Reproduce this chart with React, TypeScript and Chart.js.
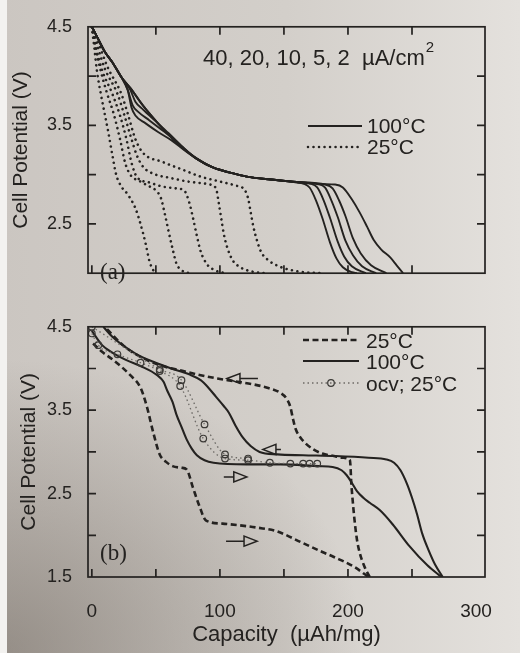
import React, { useEffect, useRef } from 'react';
import { Chart, registerables } from 'chart.js';
Chart.register(...registerables);

// ---------------- axes ----------------
const X_MIN = -3;
const X_MAX = 307;
const xBottomMarks = [0, 50, 100, 150, 200, 250];
const xTopMarks = [50, 100, 150, 200, 250];
const xLabelValues = [0, 100, 200, 300];
const yMarksA = [2.5, 3.0, 3.5, 4.0];
const yLabelsA = [2.5, 3.5, 4.5];
const yMarksB = [2.0, 2.5, 3.0, 3.5, 4.0];
const yLabelsB = [1.5, 2.5, 3.5, 4.5];

// ---------------- panel (a): 100 °C, 40/20/10/5/2 µA/cm² ----------------
const capA100_40 = [0, 4, 10, 16, 23, 28, 31, 34, 42, 52, 62, 72, 82, 95, 108, 121, 140, 160, 165, 170, 175, 180, 186, 191, 196, 203, 207];
const vA100_40 = [4.5, 4.4, 4.25, 4.14, 3.99, 3.86, 3.68, 3.6, 3.52, 3.43, 3.35, 3.25, 3.16, 3.07, 3.02, 2.98, 2.95, 2.92, 2.91, 2.87, 2.74, 2.56, 2.31, 2.15, 2.06, 2.01, 2.0];
const capA100_20 = [0, 4, 10, 16, 23, 28, 32, 36, 45, 55, 65, 75, 85, 95, 108, 121, 140, 160, 170, 176, 181, 186, 192, 197, 203, 214];
const vA100_20 = [4.5, 4.4, 4.25, 4.14, 3.99, 3.86, 3.7, 3.64, 3.55, 3.45, 3.35, 3.23, 3.14, 3.07, 3.02, 2.98, 2.95, 2.925, 2.91, 2.87, 2.74, 2.56, 2.32, 2.17, 2.07, 2.0];
const capA100_10 = [0, 4, 10, 16, 23, 30, 34, 40, 50, 60, 71, 82, 95, 108, 121, 140, 160, 176, 182, 187, 192, 198, 204, 211, 222];
const vA100_10 = [4.5, 4.4, 4.25, 4.14, 3.99, 3.86, 3.74, 3.66, 3.54, 3.42, 3.28, 3.16, 3.07, 3.02, 2.98, 2.95, 2.925, 2.905, 2.87, 2.74, 2.57, 2.33, 2.18, 2.07, 2.0];
const capA100_5 = [0, 4, 10, 16, 23, 30, 40, 51, 61, 71, 82, 95, 108, 121, 140, 160, 182, 188, 193, 198, 204, 210, 218, 230];
const vA100_5 = [4.5, 4.4, 4.25, 4.14, 3.99, 3.88, 3.7, 3.53, 3.39, 3.27, 3.16, 3.07, 3.02, 2.98, 2.95, 2.925, 2.9, 2.86, 2.74, 2.58, 2.35, 2.2, 2.08, 2.0];
const capA100_2 = [0, 4, 10, 16, 23, 30, 40, 51, 61, 71, 82, 95, 108, 121, 140, 160, 180, 190, 196, 203, 209, 215, 220, 226, 233, 238, 243];
const vA100_2 = [4.5, 4.4, 4.25, 4.14, 3.99, 3.88, 3.7, 3.53, 3.39, 3.27, 3.16, 3.07, 3.02, 2.98, 2.95, 2.925, 2.905, 2.9, 2.87, 2.75, 2.62, 2.47, 2.34, 2.24, 2.16, 2.08, 2.0];

// ---------------- panel (a): 25 °C ----------------
const capA25_40 = [0, 2, 4, 7, 10, 13, 16, 19, 23, 28, 34, 38, 42, 45, 48, 51];
const vA25_40 = [4.5, 4.28, 4.05, 3.82, 3.62, 3.42, 3.2, 3.0, 2.88, 2.8, 2.66, 2.5, 2.3, 2.12, 2.03, 2.0];
const capA25_20 = [0, 3, 7, 12, 17, 22, 26, 30, 38, 45, 50, 54, 57, 60, 63, 66, 70, 76];
const vA25_20 = [4.5, 4.28, 4.05, 3.82, 3.62, 3.36, 3.12, 3.0, 2.93, 2.88, 2.84, 2.76, 2.6, 2.42, 2.25, 2.1, 2.03, 2.0];
const capA25_10 = [0, 3, 8, 16, 22, 27, 31, 35, 45, 55, 66, 72, 76, 79, 82, 85, 90, 96, 104];
const vA25_10 = [4.5, 4.3, 4.06, 3.82, 3.6, 3.36, 3.12, 2.98, 2.92, 2.88, 2.86, 2.84, 2.72, 2.56, 2.38, 2.22, 2.09, 2.03, 2.0];
const capA25_5 = [0, 4, 10, 20, 25, 31, 35, 40, 50, 60, 75, 92, 97, 99, 101, 103, 106, 110, 116, 124, 135];
const vA25_5 = [4.5, 4.32, 4.08, 3.82, 3.62, 3.36, 3.2, 3.08, 3.0, 2.97, 2.93, 2.9, 2.86, 2.72, 2.56, 2.4, 2.25, 2.13, 2.06, 2.02, 2.0];
const capA25_2 = [0, 5, 12, 23, 28, 34, 40, 55, 69, 85, 100, 112, 119, 122, 124, 126, 129, 132, 138, 146, 160, 178];
const vA25_2 = [4.5, 4.34, 4.1, 3.82, 3.62, 3.36, 3.22, 3.13, 3.06, 2.98, 2.93, 2.89, 2.85, 2.76, 2.62, 2.48, 2.33, 2.22, 2.13, 2.07, 2.02, 2.0];

// ---------------- panel (b) ----------------
const capB25dis = [1, 8, 16, 30, 38, 43, 48, 53, 58, 63, 70, 74, 79, 84, 89, 102, 115, 130, 144, 163, 180, 189, 205, 216];
const vB25dis = [4.3, 4.2, 4.11, 3.92, 3.77, 3.54, 3.23, 2.97, 2.88, 2.83, 2.81, 2.79, 2.57, 2.35, 2.18, 2.14, 2.12, 2.09, 2.05, 1.92, 1.8, 1.74, 1.62, 1.5];
const capB25chg = [217, 213, 209, 207, 205, 203.5, 202.5, 202, 201.5, 196, 189, 180, 173, 167, 163, 159, 157, 155, 152, 147, 137, 126, 110, 98, 85, 74, 53, 38, 25, 10];
const vB25chg = [1.5, 1.62, 1.8, 1.95, 2.2, 2.45, 2.65, 2.82, 2.9, 2.93, 2.95, 2.98, 3.03, 3.1, 3.17, 3.28, 3.4, 3.54, 3.64, 3.71, 3.77, 3.81, 3.85, 3.88, 3.92, 3.96, 4.04, 4.14, 4.27, 4.5];
const capB100chg = [274, 268, 263, 258, 254, 250, 246, 241, 236, 230, 216, 190, 165, 145, 131, 124, 118, 112, 107, 103, 97, 91, 85, 76, 62, 48, 35, 24, 16, 9];
const vB100chg = [1.5, 1.65, 1.82, 2.02, 2.25, 2.45, 2.62, 2.78, 2.87, 2.91, 2.93, 2.95, 2.96, 2.97, 3.0, 3.07, 3.17, 3.32, 3.47, 3.55, 3.66, 3.77, 3.86, 3.93, 4.0, 4.08, 4.17, 4.28, 4.38, 4.5];
const capB100dis = [0, 8, 16, 27, 38, 51, 56, 59, 63, 66, 70, 74, 78, 82, 88, 95, 121, 147, 177, 188, 195, 199, 203, 207, 212, 217, 225, 235, 248, 262, 273];
const vB100dis = [4.45, 4.28, 4.19, 4.1, 4.03, 3.92, 3.84, 3.73, 3.6, 3.45, 3.3, 3.15, 3.04, 2.96, 2.9, 2.87, 2.85, 2.85, 2.83, 2.82, 2.78, 2.72, 2.63, 2.53, 2.45, 2.39, 2.3, 2.13, 1.87, 1.64, 1.5];
const capOcvDis = [0, 5, 20, 38, 53, 69, 87, 104, 122, 139, 155, 165, 170, 176];
const vOcvDis = [4.42, 4.28, 4.17, 4.07, 3.97, 3.79, 3.16, 2.92, 2.9, 2.87, 2.86, 2.86, 2.86, 2.86];
const capOcvChg = [0, 53, 70, 88, 104, 122];
const vOcvChg = [4.5, 3.99, 3.86, 3.33, 2.97, 2.92];

// direction arrows in panel (b): capacity, potential, direction
const arrowCap = [105.5, 133.6, 121, 129];
const arrowV = [3.88, 3.03, 2.7, 1.93];
const arrowDir = [-1, -1, 1, 1];
const arrowTail = [18, 5, 10, 18];

// ---------------- style ----------------
const INK = '#242220';
const FONT = '"Liberation Sans", Arial, Helvetica, sans-serif';
const SERIF = '"Liberation Serif", "Times New Roman", serif';
const DOT = [0.01, 5.5];
const DASH = [6, 3.5];
const OCV_DASH = [1.5, 3];

const pts = (xs: number[], ys: number[]) => xs.map((x, i) => ({ x, y: ys[i] }));

const solid = (data: any, w = 2.1) => ({
  data, showLine: true, borderColor: INK, borderWidth: w, pointRadius: 0,
  cubicInterpolationMode: 'monotone', fill: false,
});
const dotted = (data: any) => ({
  data, showLine: true, borderColor: INK, borderWidth: 2.6, borderDash: DOT,
  borderCapStyle: 'round', pointRadius: 0, cubicInterpolationMode: 'monotone', fill: false,
});
const dashed = (data: any) => ({
  data, showLine: true, borderColor: INK, borderWidth: 2.6, borderDash: DASH,
  pointRadius: 0, cubicInterpolationMode: 'monotone', fill: false,
});
const ocv = (data: any) => ({
  data, showLine: true, borderColor: '#6d6a66', borderWidth: 1.3, borderDash: OCV_DASH,
  pointRadius: 3.3, pointBorderColor: '#3b3936', pointBorderWidth: 1.2,
  pointBackgroundColor: 'rgba(0,0,0,0)', cubicInterpolationMode: 'monotone', fill: false,
});

function framePlugin(yMarks: number[]) {
  return {
    id: 'frameTicks',
    afterDraw(chart: any) {
      const { ctx, chartArea, scales } = chart;
      const { left, right, top, bottom } = chartArea;
      const L = 8;
      ctx.save();
      ctx.strokeStyle = INK;
      ctx.lineWidth = 1.7;
      ctx.setLineDash([]);
      ctx.strokeRect(left, top, right - left, bottom - top);
      ctx.beginPath();
      xBottomMarks.forEach((v) => {
        const p = scales.x.getPixelForValue(v);
        ctx.moveTo(p, bottom); ctx.lineTo(p, bottom - L);
      });
      xTopMarks.forEach((v) => {
        const p = scales.x.getPixelForValue(v);
        ctx.moveTo(p, top); ctx.lineTo(p, top + L);
      });
      yMarks.forEach((v) => {
        const p = scales.y.getPixelForValue(v);
        ctx.moveTo(left, p); ctx.lineTo(left + L, p);
        ctx.moveTo(right, p); ctx.lineTo(right - L, p);
      });
      ctx.stroke();
      ctx.restore();
    },
  };
}

function legendLine(ctx: any, x0: number, x1: number, y: number, kind: string) {
  ctx.save();
  ctx.strokeStyle = kind === 'ocv' ? '#6d6a66' : INK;
  ctx.lineWidth = kind === 'solid' ? 2.2 : kind === 'ocv' ? 1.3 : 2.6;
  if (kind === 'dot') { ctx.setLineDash(DOT); ctx.lineCap = 'round'; }
  if (kind === 'dash') ctx.setLineDash(DASH);
  if (kind === 'ocv') ctx.setLineDash(OCV_DASH);
  ctx.beginPath(); ctx.moveTo(x0, y); ctx.lineTo(x1, y); ctx.stroke();
  if (kind === 'ocv') {
    ctx.setLineDash([]);
    ctx.strokeStyle = '#3b3936';
    ctx.lineWidth = 1.2;
    ctx.beginPath(); ctx.arc((x0 + x1) / 2, y, 3.3, 0, Math.PI * 2); ctx.stroke();
  }
  ctx.restore();
}

function text(ctx: any, s: string, x: number, y: number, font: string) {
  ctx.save();
  ctx.fillStyle = INK;
  ctx.font = font;
  ctx.textBaseline = 'alphabetic';
  ctx.textAlign = 'left';
  ctx.fillText(s, x, y);
  ctx.restore();
}

const annotA = {
  id: 'annotA',
  afterDraw(chart: any) {
    const ctx = chart.ctx;
    text(ctx, '40, 20, 10, 5, 2  µA/cm', 203, 65, `22px ${FONT}`);
    ctx.save();
    ctx.font = `22px ${FONT}`;
    const w = ctx.measureText('40, 20, 10, 5, 2  µA/cm').width;
    ctx.restore();
    text(ctx, '2', 203 + w + 1, 52, `15px ${FONT}`);
    legendLine(ctx, 308, 362, 126, 'solid');
    text(ctx, '100°C', 367, 133, `21px ${FONT}`);
    legendLine(ctx, 308, 362, 147, 'dot');
    text(ctx, '25°C', 367, 154, `21px ${FONT}`);
    text(ctx, '(a)', 100, 279, `23px ${SERIF}`);
  },
};

const annotB = {
  id: 'annotB',
  afterDraw(chart: any) {
    const { ctx, scales } = chart;
    legendLine(ctx, 303, 359, 40, 'dash');
    text(ctx, '25°C', 366, 48, `21px ${FONT}`);
    legendLine(ctx, 303, 359, 61, 'solid');
    text(ctx, '100°C', 366, 69, `21px ${FONT}`);
    legendLine(ctx, 303, 359, 83, 'ocv');
    text(ctx, 'ocv; 25°C', 366, 91, `21px ${FONT}`);
    text(ctx, '(b)', 100, 260, `23px ${SERIF}`);
    ctx.save();
    ctx.strokeStyle = INK;
    ctx.lineWidth = 1.5;
    arrowCap.forEach((c, i) => {
      const tx = scales.x.getPixelForValue(c);
      const ty = scales.y.getPixelForValue(arrowV[i]);
      const d = arrowDir[i];
      const L = 13, H = 5;
      ctx.beginPath();
      ctx.moveTo(tx, ty);
      ctx.lineTo(tx - d * L, ty - H);
      ctx.lineTo(tx - d * L, ty + H);
      ctx.closePath();
      ctx.moveTo(tx - d * L, ty);
      ctx.lineTo(tx - d * (L + arrowTail[i]), ty);
      ctx.stroke();
    });
    ctx.restore();
  },
};

function makeScales(o: { yMin: number; yMax: number; yLabels: number[]; showX: boolean; xHeight: number; yTitlePad: number }) {
  return {
    x: {
      type: 'linear', min: X_MIN, max: X_MAX,
      grid: { display: false, drawTicks: false }, border: { display: false },
      afterBuildTicks: (s: any) => { s.ticks = xLabelValues.map((v) => ({ value: v })); },
      ticks: {
        display: o.showX, color: INK, font: { family: FONT, size: 19 }, padding: 23,
        maxRotation: 0, autoSkip: false, callback: (v: any) => String(v),
      },
      title: {
        display: o.showX, text: 'Capacity  (µAh/mg)', color: INK,
        font: { family: FONT, size: 22 }, padding: { top: 0, bottom: 5 },
      },
      afterFit: (s: any) => { s.height = o.xHeight; },
    },
    y: {
      type: 'linear', min: o.yMin, max: o.yMax,
      grid: { display: false, drawTicks: false }, border: { display: false },
      afterBuildTicks: (s: any) => { s.ticks = o.yLabels.map((v) => ({ value: v })); },
      ticks: {
        color: INK, font: { family: FONT, size: 18 }, padding: 16, autoSkip: false,
        callback: (v: any) => Number(v).toFixed(1),
      },
      title: {
        display: true, text: 'Cell Potential (V)', color: INK,
        font: { family: FONT, size: 21 }, padding: { top: o.yTitlePad, bottom: 0 },
      },
      afterFit: (s: any) => { s.width = 88; },
    },
  };
}

export default function App() {
  const refA = useRef<HTMLCanvasElement>(null);
  const refB = useRef<HTMLCanvasElement>(null);

  useEffect(() => {
    const chartA = new Chart(refA.current as HTMLCanvasElement, {
      type: 'scatter',
      data: {
        datasets: [
          dotted(pts(capA25_40, vA25_40)),
          dotted(pts(capA25_20, vA25_20)),
          dotted(pts(capA25_10, vA25_10)),
          dotted(pts(capA25_5, vA25_5)),
          dotted(pts(capA25_2, vA25_2)),
          solid(pts(capA100_40, vA100_40), 1.9),
          solid(pts(capA100_20, vA100_20), 1.9),
          solid(pts(capA100_10, vA100_10), 1.9),
          solid(pts(capA100_5, vA100_5), 1.9),
          solid(pts(capA100_2, vA100_2), 1.9),
        ] as any,
      },
      options: {
        responsive: false, animation: false, devicePixelRatio: 1,
        layout: { padding: { left: 0, right: 35, top: 24, bottom: 0 } },
        plugins: { legend: { display: false }, tooltip: { enabled: false } },
        scales: makeScales({ yMin: 2.0, yMax: 4.5, yLabels: yLabelsA, showX: false, xHeight: 6, yTitlePad: 9 }) as any,
      },
      plugins: [framePlugin(yMarksA), annotA],
    });

    const chartB = new Chart(refB.current as HTMLCanvasElement, {
      type: 'scatter',
      data: {
        datasets: [
          ocv(pts(capOcvDis, vOcvDis)),
          ocv(pts(capOcvChg, vOcvChg)),
          dashed(pts(capB25dis, vB25dis)),
          dashed(pts(capB25chg, vB25chg)),
          solid(pts(capB100dis, vB100dis), 2.1),
          solid(pts(capB100chg, vB100chg), 2.1),
        ] as any,
      },
      options: {
        responsive: false, animation: false, devicePixelRatio: 1,
        layout: { padding: { left: 0, right: 35, top: 14, bottom: 0 } },
        plugins: { legend: { display: false }, tooltip: { enabled: false } },
        scales: makeScales({ yMin: 1.5, yMax: 4.5, yLabels: yLabelsB, showX: true, xHeight: 76, yTitlePad: 17 }) as any,
      },
      plugins: [framePlugin(yMarksB), annotB],
    });

    return () => { chartA.destroy(); chartB.destroy(); };
  }, []);

  return (
    <div
      style={{
        position: 'fixed', left: 0, top: 0, width: 520, height: 653, overflow: 'hidden',
        background:
          'radial-gradient(ellipse 70% 45% at 0% 100%, rgba(95,86,77,0.5), rgba(95,86,77,0) 100%), linear-gradient(to right, #cbc6c1 0%, #d3cfca 55%, #e4e1dd 100%)',
      }}
    >
      <div style={{ position: 'absolute', left: 0, top: 0, width: 7, height: 653, background: '#f3f2f0' }} />
      <canvas ref={refA} width={520} height={300} style={{ position: 'absolute', left: 0, top: 0, width: 520, height: 300 }} />
      <canvas ref={refB} width={520} height={353} style={{ position: 'absolute', left: 0, top: 300, width: 520, height: 353 }} />
    </div>
  );
}
